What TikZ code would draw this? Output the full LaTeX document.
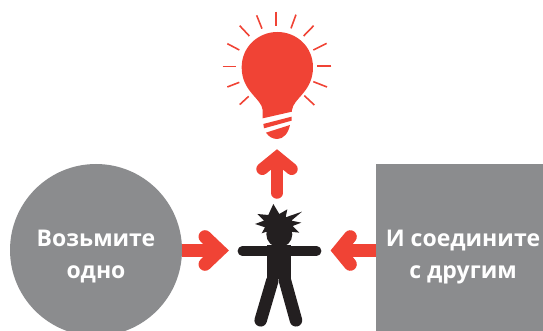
\documentclass[tikz,border=0pt]{standalone}
\usepackage{fontspec}
\setmainfont{Open Sans}
\definecolor{gr}{HTML}{8B8C8E}
\definecolor{rd}{HTML}{F04335}
\definecolor{bk}{HTML}{231F20}
\tikzset{
  shaft/.style={draw=rd,line width=12.5pt},
  head/.style={draw=rd,line width=13pt,line cap=round,miter limit=10},
  ray/.style={draw=rd,line width=1.6pt},
  blob/.style={draw=none,inner sep=0pt,outer sep=0pt,fill=gr},
  lab/.style={font=\bfseries\fontsize{23}{32}\selectfont,text=white,align=center,inner sep=0pt},
  body/.style={draw=bk,line cap=round},
}
\begin{document}
\begin{tikzpicture}[x=1pt,y=-1pt]
\clip (0,0) rectangle (543,331);
\path[use as bounding box] (0,0) rectangle (543,331);
% shapes
\node[blob,circle,minimum size=172pt] (take) at (96,250) {};
\node[blob,rectangle,minimum width=167pt,minimum height=167pt,anchor=north west] (join) at (376,164) {};
\node[lab] (taketext) at (96,257) {Возьмите\\одно};
\node[lab] (jointext) at (463,257) {И соедините\\с другим};
% person
\begin{scope}[shift={(170,190)},x=0.3333pt,y=-0.3333pt]
\fill[bk] (310,42)--(328,72)--(352,58)--(347,82)--(396,65)--(364,92)--(394,98)--(368,108)--(388,128)--(360,125)--(365,140)--(295,140)--(290,125)--(275,130)--(285,112)--(255,102)--(282,92)--(262,72)--(295,75)--cycle;
\fill[bk] (328,133) circle[radius=39];
\fill[bk] (291,165) rectangle (363,268);
\draw[body,line width=9.5pt] (217,183)--(440,183);
\draw[body,line width=12.5pt] (272,391)--(307,272);
\draw[body,line width=12.5pt] (378,391)--(345,272);
\coordinate (person) at (328,183);
\end{scope}
% arrows
\coordinate (lefttip) at (219.5,250.5);
\coordinate (righttip) at (339,250.5);
\coordinate (uptip) at (277,157);
\draw[shaft] (take.east |- lefttip) -- (lefttip);
\draw[head] (205,236.7) -- (lefttip) -- (205,264.3);
\draw[shaft] (join.west |- righttip) -- (righttip);
\draw[head] (350.3,236.7) -- (righttip) -- (350.3,264.3);
\coordinate (upbase) at (277,193);
\draw[shaft,line width=11.5pt,line cap=round] (upbase) -- (uptip);
\draw[head,line width=12pt] (262.3,169) -- (uptip) -- (291.7,169);
% bulb
\begin{scope}[shift={(200,0)},x=0.3333pt,y=-0.3333pt]
\fill[rd] (188,330) .. controls (185,295) and (125,275) .. (125,202)
  .. controls (125,140) and (175,96) .. (232,96)
  .. controls (290,96) and (339,140) .. (339,202)
  .. controls (339,275) and (280,295) .. (276,330)
  -- (276,335) -- (188,355) -- cycle;
\fill[rd] (190,372)--(275,350)--(275,362)--(192,385)--cycle;
\fill[rd] (198,398)--(270,375) .. controls (265,400) and (250,417) .. (232,417) .. controls (218,417) and (206,410) .. (198,398) -- cycle;
\foreach \a/\b/\c/\d in {228/35/228/77,170/46/186/86,288/44/273/85,119/77/148/108,341/77/311/108,82/131/118/150,380/130/340/150,68/199/108/199,394/198/351/198,82/261/118/247,381/261/340/245,119/314/146/289,343/315/313/287}
  \draw[ray] (\a,\b)--(\c,\d);
\end{scope}
\end{tikzpicture}
\end{document}
